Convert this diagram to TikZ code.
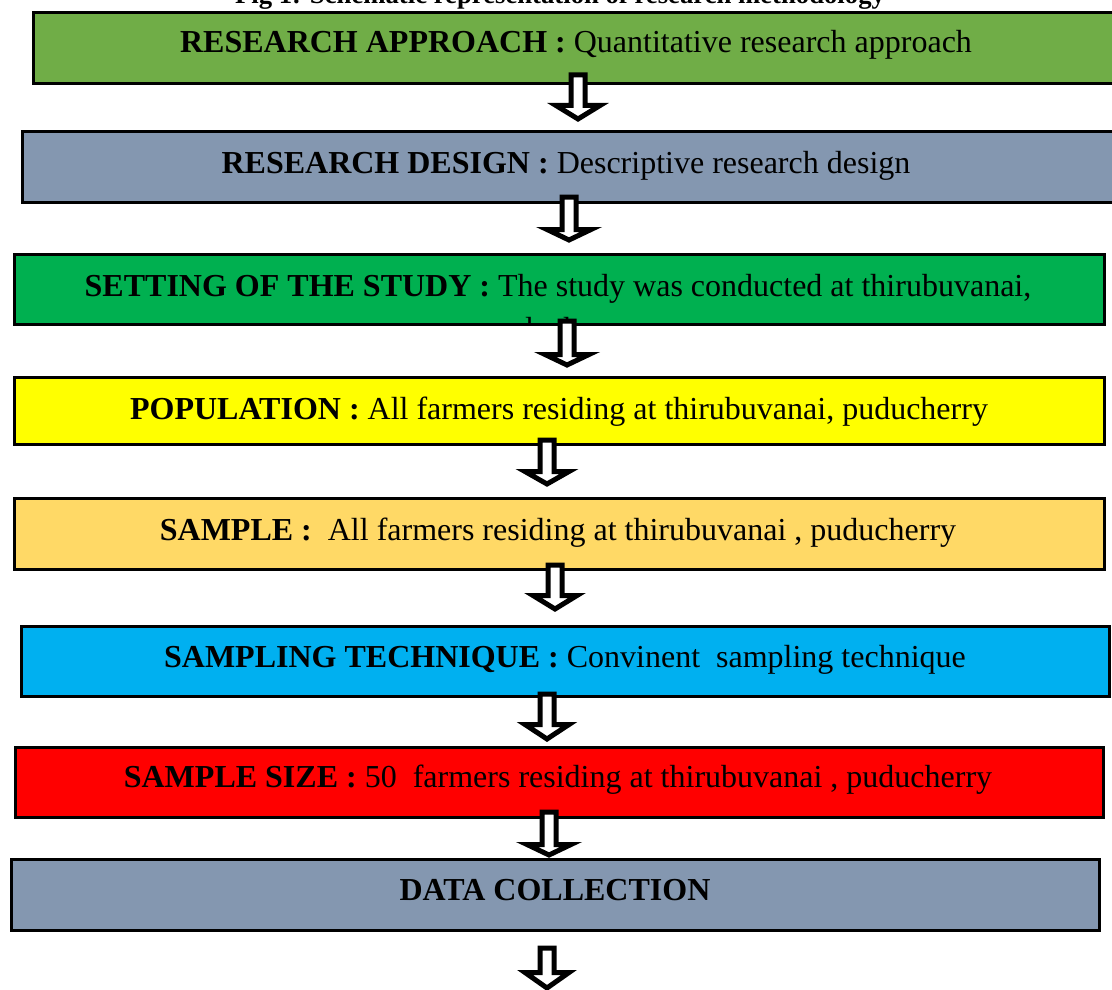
\documentclass[tikz,border=0pt]{standalone}
\usepackage{fontspec}
\setmainfont{Liberation Serif}
\definecolor{approachgreen}{HTML}{70AD47}
\definecolor{slateblue}{HTML}{8497B0}
\definecolor{settinggreen}{HTML}{00B050}
\definecolor{popyellow}{HTML}{FFFF00}
\definecolor{sampleorange}{HTML}{FFD966}
\definecolor{techcyan}{HTML}{00B0F0}
\definecolor{sizered}{HTML}{FF0000}
% hollow block arrow: centre x, shaft top, head start, tip
\newcommand\flowarrow[4]{%
  \draw[blockarrow] ({#1-7},#2) -- ({#1-7},#3) -- ({#1-22},#3) -- (#1,#4)
    -- ({#1+22},#3) -- ({#1+7},#3) -- ({#1+7},#2) -- cycle;}
\begin{document}
\begin{tikzpicture}[x=1pt,y=-1pt,
  stage/.style={draw=black, line width=3pt, inner sep=0pt, outer sep=0pt},
  stagetext/.style={anchor=base, inner sep=0pt, font=\fontsize{32}{38}\selectfont},
  blockarrow/.style={draw=black, fill=white, line width=5pt, line join=miter}]
\useasboundingbox (0,0) rectangle (1112,990);

% caption, partly above the page
\node[anchor=base, inner sep=0pt, font=\fontsize{26.7}{30}\selectfont\bfseries] (title)
  at (560,4) {Fig 1: Schematic representation of research methodology};

% stages
\node[stage, fill=approachgreen, minimum width=1085, minimum height=71] (approach) at (576,48) {};
\node[stage, fill=slateblue, minimum width=1096, minimum height=71] (design) at (570.5,167) {};
\node[stage, fill=settinggreen, minimum width=1090, minimum height=70] (setting) at (559.5,289.5) {};
\node[stage, fill=popyellow, minimum width=1090, minimum height=67] (population) at (559.5,411) {};
\node[stage, fill=sampleorange, minimum width=1090, minimum height=71] (sample) at (559.5,534) {};
\node[stage, fill=techcyan, minimum width=1088, minimum height=70] (technique) at (565.5,661.5) {};
\node[stage, fill=sizered, minimum width=1088, minimum height=70] (size) at (559.5,782.5) {};
\node[stage, fill=slateblue, minimum width=1088, minimum height=71] (collection) at (555.5,895) {};

% stage texts
\node[stagetext] (approachtext) at (576,53)
  {\textbf{RESEARCH APPROACH :} Quantitative research approach};
\node[stagetext] (designtext) at (566,173)
  {\textbf{RESEARCH DESIGN :} Descriptive research design};
\node[stagetext] (settingtext) at (558,296)
  {\textbf{SETTING OF THE STUDY :} The study was conducted at thirubuvanai,};
\begin{scope}
  \clip (16,256) rectangle (1103,323);
  \node[stagetext] (settingtext2) at (558,339) {puducherry};
\end{scope}
\node[stagetext] (populationtext) at (559,419)
  {\textbf{POPULATION :} All farmers residing at thirubuvanai, puducherry};
\node[stagetext] (sampletext) at (558,540)
  {\textbf{SAMPLE :} ~All farmers residing at thirubuvanai , puducherry};
\node[stagetext] (techniquetext) at (565,667)
  {\textbf{SAMPLING TECHNIQUE :} Convinent ~sampling technique};
\node[stagetext] (sizetext) at (558,787)
  {\textbf{SAMPLE SIZE :} 50 ~farmers residing at thirubuvanai , puducherry};
\node[stagetext] (collectiontext) at (555,900) {\textbf{DATA COLLECTION}};

% arrows between stages
\flowarrow{578}{75}{105.5}{119}
\flowarrow{569}{197}{229.5}{240}
\flowarrow{567}{321}{354.5}{365}
\flowarrow{547}{440}{471.5}{484}
\flowarrow{555}{565}{595.5}{609}
\flowarrow{547}{694}{724.5}{739}
\flowarrow{549}{812}{844.5}{855}
\flowarrow{547}{948}{972.5}{988}
\end{tikzpicture}
\end{document}
